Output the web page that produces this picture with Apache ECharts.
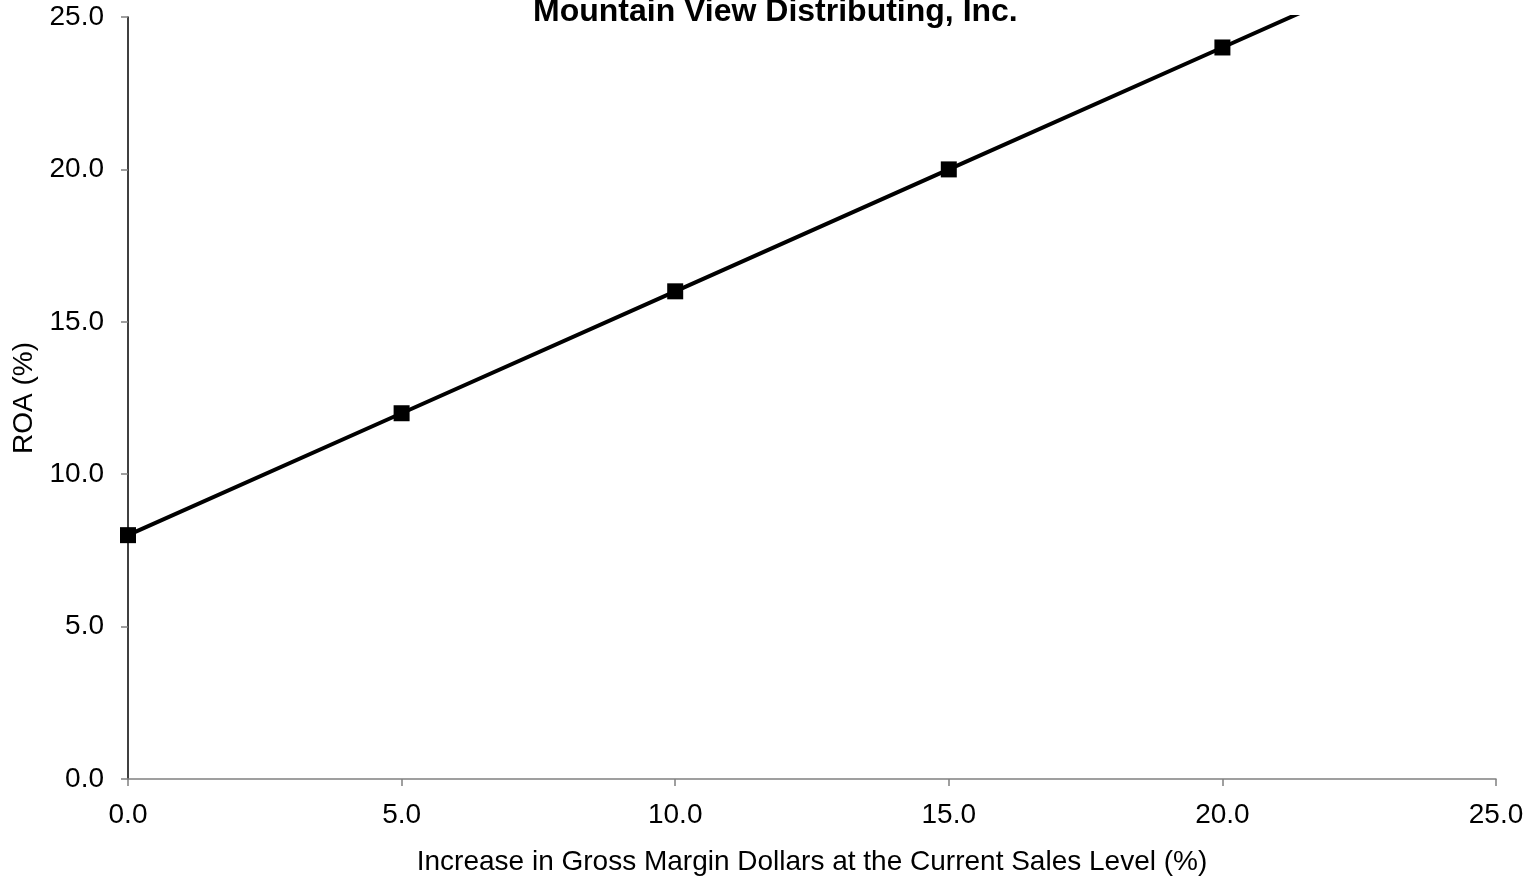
<!DOCTYPE html>
<html>
<head>
<meta charset="utf-8">
<script src="https://cdn.jsdelivr.net/npm/echarts@6/dist/echarts.min.js"></script>
<style>
  html, body { margin: 0; padding: 0; background: #fff; }
  #chart { width: 1535px; height: 882px; }
</style>
</head>
<body>
<div id="chart"></div>
<script>
// Gross margin increase (%) and resulting ROA (%)
const gmIncrease = [0, 5, 10, 15, 20, 25];
const roaValues = [8, 12, 16, 20, 24, 28];
const titleText = 'Mountain View Distributing, Inc.';
const xAxisName = 'Increase in Gross Margin Dollars at the Current Sales Level (%)';
const yAxisName = 'ROA (%)';

const font = 'Liberation Sans, Arial, sans-serif';
const chart = echarts.init(document.getElementById('chart'));

chart.setOption({
  animation: false,
  backgroundColor: '#ffffff',
  title: {
    text: titleText,
    left: 528,
    top: -9,
    textStyle: { fontFamily: font, fontSize: 32, fontWeight: 'bold', color: '#000' }
  },
  grid: { left: 128, right: 39, top: 17, bottom: 103 },
  xAxis: {
    type: 'value',
    min: 0, max: 25, interval: 5,
    name: xAxisName,
    nameLocation: 'middle',
    nameGap: 69,
    nameTextStyle: { fontFamily: font, fontSize: 28, color: '#000' },
    axisLine: { show: true, lineStyle: { color: '#808080', width: 1.5 } },
    axisTick: { show: true, length: 7, lineStyle: { color: '#808080', width: 1.5 } },
    axisLabel: {
      fontFamily: font, fontSize: 28, color: '#000', margin: 22,
      formatter: v => v.toFixed(1)
    },
    splitLine: { show: false }
  },
  yAxis: {
    type: 'value',
    min: 0, max: 25, interval: 5,
    name: yAxisName,
    nameLocation: 'middle',
    nameGap: 90,
    nameTextStyle: { fontFamily: font, fontSize: 28, color: '#000' },
    axisLine: { show: true, lineStyle: { color: '#000', width: 1.5 } },
    axisTick: { show: true, length: 7, lineStyle: { color: '#808080', width: 1.5 } },
    axisLabel: {
      fontFamily: font, fontSize: 28, color: '#000', margin: 24,
      formatter: v => v.toFixed(1)
    },
    splitLine: { show: false }
  },
  series: [{
    type: 'line',
    data: gmIncrease.map((x, i) => [x, roaValues[i]]),
    clip: true,
    symbol: 'rect',
    symbolSize: 16,
    showAllSymbol: true,
    itemStyle: { color: '#000' },
    lineStyle: { color: '#000', width: 4 }
  }]
});
</script>
</body>
</html>
